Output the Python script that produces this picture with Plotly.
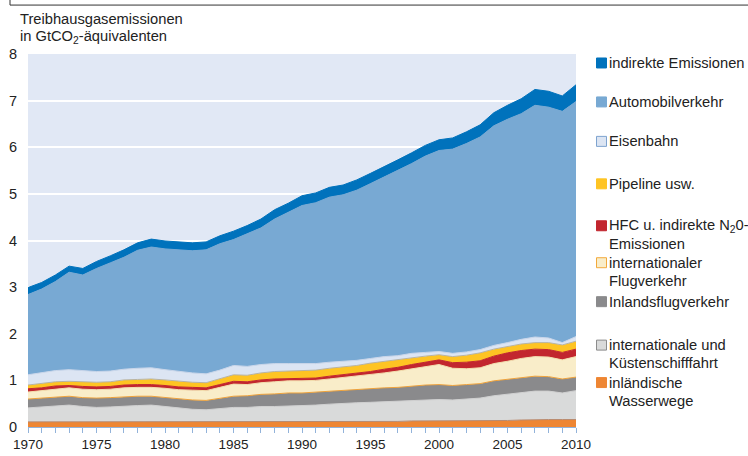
import plotly.graph_objects as go

years = list(range(1970, 2011))

waterways = [0.11,0.11,0.12,0.12,0.11,0.11,0.11,0.12,0.12,0.12,
             0.12,0.11,0.11,0.11,0.11,0.11,0.11,0.12,0.12,0.12,
             0.12,0.12,0.12,0.12,0.12,0.12,0.12,0.12,0.13,0.13,
             0.13,0.13,0.13,0.13,0.14,0.14,0.15,0.16,0.16,0.16,0.16]
shipping = [0.30,0.32,0.34,0.35,0.33,0.31,0.32,0.33,0.34,0.35,
            0.32,0.29,0.27,0.26,0.29,0.31,0.31,0.32,0.32,0.33,
            0.33,0.35,0.37,0.39,0.40,0.41,0.42,0.43,0.44,0.45,
            0.46,0.45,0.47,0.49,0.53,0.56,0.59,0.61,0.61,0.57,0.62]
dom_aviation = [0.19,0.19,0.19,0.19,0.19,0.20,0.20,0.20,0.20,0.19,
                0.19,0.20,0.20,0.20,0.22,0.24,0.25,0.26,0.27,0.28,
                0.28,0.28,0.28,0.28,0.29,0.29,0.30,0.30,0.31,0.32,
                0.32,0.31,0.31,0.31,0.32,0.32,0.32,0.32,0.31,0.30,0.29]
intl_aviation = [0.15,0.16,0.17,0.18,0.18,0.18,0.18,0.19,0.19,0.19,
                 0.20,0.20,0.21,0.21,0.23,0.26,0.24,0.25,0.26,0.26,
                 0.26,0.25,0.26,0.27,0.28,0.30,0.32,0.35,0.37,0.40,
                 0.43,0.37,0.34,0.34,0.37,0.39,0.41,0.42,0.42,0.41,0.44]
hfc = [0.07,0.06,0.06,0.05,0.06,0.06,0.06,0.06,0.06,0.06,
       0.06,0.06,0.06,0.06,0.06,0.06,0.06,0.06,0.06,0.05,
       0.05,0.05,0.06,0.06,0.06,0.07,0.08,0.08,0.09,0.09,
       0.10,0.12,0.14,0.15,0.16,0.18,0.17,0.16,0.16,0.16,0.16]
pipeline = [0.08,0.09,0.09,0.09,0.10,0.10,0.10,0.11,0.11,0.12,
            0.12,0.12,0.11,0.11,0.12,0.14,0.14,0.15,0.16,0.16,
            0.17,0.17,0.17,0.17,0.17,0.18,0.17,0.16,0.15,0.13,
            0.11,0.13,0.15,0.17,0.15,0.14,0.14,0.14,0.15,0.16,0.17]
rail = [0.22,0.23,0.24,0.25,0.24,0.23,0.23,0.23,0.24,0.24,
        0.22,0.21,0.20,0.19,0.19,0.20,0.19,0.18,0.17,0.16,
        0.15,0.14,0.13,0.12,0.11,0.10,0.10,0.09,0.09,0.08,
        0.07,0.07,0.07,0.07,0.08,0.08,0.10,0.12,0.10,0.05,0.10]
road = [1.72,1.80,1.91,2.09,2.05,2.21,2.32,2.40,2.53,2.59,
        2.59,2.61,2.62,2.66,2.71,2.70,2.84,2.93,3.10,3.24,
        3.39,3.45,3.54,3.57,3.65,3.75,3.85,3.98,4.07,4.21,
        4.31,4.38,4.47,4.56,4.71,4.79,4.84,4.97,4.95,4.96,5.04]
indirect = [0.15,0.14,0.14,0.13,0.14,0.15,0.15,0.16,0.16,0.17,
            0.17,0.17,0.17,0.17,0.17,0.18,0.18,0.19,0.20,0.20,
            0.21,0.21,0.21,0.21,0.22,0.22,0.22,0.22,0.23,0.23,
            0.23,0.24,0.25,0.26,0.28,0.30,0.32,0.34,0.34,0.33,0.36]

x_ticks = [1970, 1975, 1980, 1985, 1990, 1995, 2000, 2005, 2010]
y_ticks = [0, 1, 2, 3, 4, 5, 6, 7, 8]

# (values, legend lines, fill, line colour, swatch border)
series = [
    (waterways, ["inländische", "Wasserwege"], "#EE8633", "#B98A6E", "#EE8633"),
    (shipping, ["internationale und", "Küstenschifffahrt"], "#D9DADA", "#D0D0D0", "#8C8C8C"),
    (dom_aviation, ["Inlandsflugverkehr"], "#8A8A8C", "#EFA23A", "#8A8A8C"),
    (intl_aviation, ["internationaler", "Flugverkehr"], "#F9EDC9", "#F3DFAE", "#F2A93B"),
    (hfc, ["HFC u. indirekte N<sub>2</sub>0-", "Emissionen"], "#C2262E", "#C2262E", "#C2262E"),
    (pipeline, ["Pipeline usw."], "#FEC423", "#B9B4A2", "#FEC423"),
    (rail, ["Eisenbahn"], "#DCE5F3", "#C9D6EA", "#7EA3CF"),
    (road, ["Automobilverkehr"], "#78A9D3", "#78A9D3", "#78A9D3"),
    (indirect, ["indirekte Emissionen"], "#0072BC", "#0072BC", "#0072BC"),
]

FONT = "Liberation Sans, Arial, sans-serif"
W, H = 748, 456
L, R, T, B = 28, 576, 54, 427.5

def px(x):
    return (x - L) / (R - L)

def py(y):
    return (B - y) / (B - T)

fig = go.Figure()
for vals, names, fill, line, _ in series:
    fig.add_trace(go.Scatter(
        x=years, y=vals, stackgroup="one", mode="lines",
        line=dict(color=line, width=1, shape="linear"),
        fillcolor=fill, name=" ".join(names).replace("<sub>", "").replace("</sub>", ""),
        showlegend=False, hoverinfo="x+y+name",
    ))

shapes = []
annotations = []

# legend (top to bottom)
legend_centers = [63, 102, 141.5, 184, 226, 263, 302, 345.5, 383]
for (vals, names, fill, line, border), cy in zip(series[::-1], legend_centers):
    shapes.append(dict(type="rect", xref="paper", yref="paper",
                       x0=px(596.5), x1=px(606.5), y0=py(cy + 5), y1=py(cy - 5),
                       fillcolor=fill, line=dict(color=border, width=1)))
    for i, txt in enumerate(names):
        annotations.append(dict(xref="paper", yref="paper", x=px(607), y=py(cy + i * 18),
                                text=txt, showarrow=False, xanchor="left", yanchor="middle",
                                font=dict(family=FONT, size=14.7, color="#222222")))

# axis title
annotations.append(dict(xref="paper", yref="paper", x=px(18), y=py(19), text="Treibhausgasemissionen",
                        showarrow=False, xanchor="left", yanchor="middle",
                        font=dict(family=FONT, size=14.7, color="#222222")))
annotations.append(dict(xref="paper", yref="paper", x=px(18), y=py(37),
                        text="in GtCO<sub>2</sub>-äquivalenten",
                        showarrow=False, xanchor="left", yanchor="middle",
                        font=dict(family=FONT, size=14.7, color="#222222")))

# frame line at top
shapes.append(dict(type="line", xref="paper", yref="paper", x0=px(10), x1=px(748),
                   y0=py(5), y1=py(5), line=dict(color="#333333", width=1)))
shapes.append(dict(type="line", xref="paper", yref="paper", x0=px(10), x1=px(10),
                   y0=py(5), y1=py(-5), line=dict(color="#333333", width=1)))

fig.update_layout(
    width=W, height=H,
    margin=dict(l=L, r=W - R, t=T, b=H - B, autoexpand=False),
    paper_bgcolor="white", plot_bgcolor="#E1E8F5",
    font=dict(family=FONT, size=14, color="#222222"),
    shapes=shapes, annotations=annotations,
    xaxis=dict(range=[1970, 2010], tickvals=x_ticks, ticktext=[str(v) for v in x_ticks],
               automargin=False,
               showgrid=False, zeroline=False, showline=True, linecolor="#93B3DA", linewidth=1,
               ticks="outside", ticklen=5, tickcolor="#93B3DA", tickwidth=1,
               tickfont=dict(family=FONT, size=13.5, color="#222222"),
               minor=dict(dtick=1, ticks="outside", ticklen=5, tickcolor="#93B3DA", showgrid=False)),
    yaxis=dict(range=[0, 8], tickvals=y_ticks, showgrid=True, gridcolor="white", gridwidth=2,
               automargin=False,
               zeroline=False, showline=False, ticks="", ticklabelstandoff=10,
               tickfont=dict(family=FONT, size=14.5, color="#222222")),
)

fig.write_html("out.html", config={"displayModeBar": False},
               post_script="document.body.style.margin='0';document.body.style.padding='0';")
